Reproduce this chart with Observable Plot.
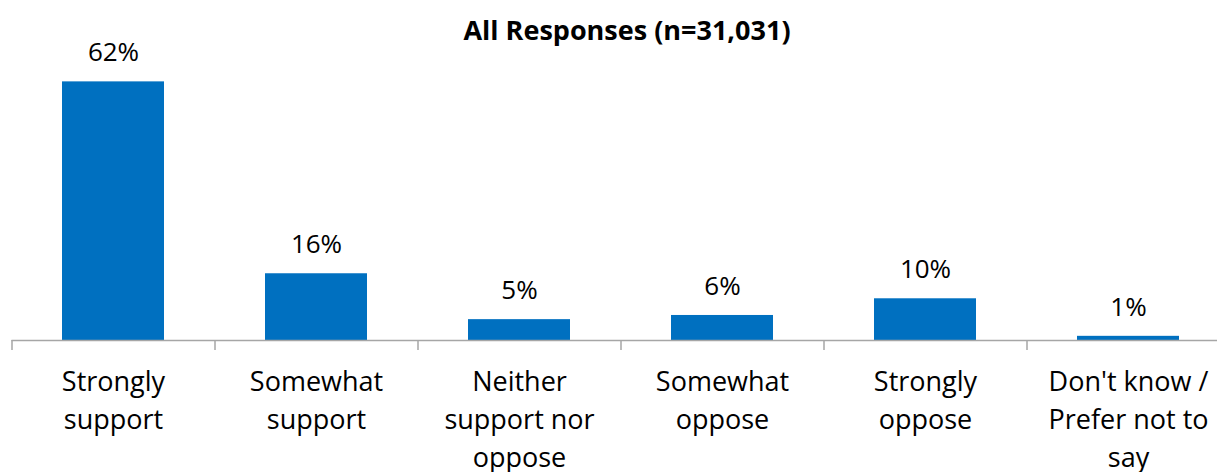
<!DOCTYPE html>
<html>
<head>
<meta charset="utf-8">
<script src="https://cdn.jsdelivr.net/npm/d3@7"></script>
<script src="https://cdn.jsdelivr.net/npm/@observablehq/plot@0.6"></script>
<style>
  html, body { margin: 0; padding: 0; background: #fff; overflow: hidden; }
  #chart svg { display: block; max-width: none !important; }
</style>
</head>
<body>
<div id="chart"></div>
<script>
const title = "All Responses (n=31,031)";
const categories = ["Strongly support", "Somewhat support", "Neither support nor oppose", "Somewhat oppose", "Strongly oppose", "Don't know / Prefer not to say"];
const tickLabels = ["Strongly\nsupport", "Somewhat\nsupport", "Neither\nsupport nor\noppose", "Somewhat\noppose", "Strongly\noppose", "Don't know /\nPrefer not to\nsay"];
const values = [62, 16, 5, 6, 10, 1];

const data = categories.map((c, i) => ({category: c, value: values[i], label: tickLabels[i]}));
const labelOf = new Map(data.map(d => [d.category, d.label]));

const font = "'Open Sans', Lato, sans-serif";
const W = 1231;

const plot = Plot.plot({
  width: W,
  height: 472,
  marginLeft: 11.5,
  marginRight: 1.5,
  marginTop: 48,
  marginBottom: 132,
  style: {fontFamily: font, fontSize: "26px", color: "#000", background: "#fff", overflow: "visible", maxWidth: "none"},
  x: {domain: categories, paddingInner: 0.5, paddingOuter: 0.25, align: 0.5, axis: null, label: null},
  y: {domain: [0, 70], axis: null},
  marks: [
    Plot.barY(data, {x: "category", y: "value", fill: "#0070C0"}),
    Plot.ruleY([0], {stroke: "#a6a6a6", strokeWidth: 1.5}),
    Plot.ruleX(categories, {x: d => d, dx: -101.5, y1: 0, y2: -2.4, stroke: "#a6a6a6", strokeWidth: 1.5}),
    Plot.text(data, {x: "category", y: "value", text: d => d.value + "%", dy: -29, fontSize: 26, fill: "#000"}),
    Plot.axisX({tickSize: 0, tickPadding: 24, label: null, tickFormat: d => labelOf.get(d), fontSize: 27, lineHeight: 1.4, fill: "#000"}),
    Plot.text([title], {frameAnchor: "top", dy: -28, dx: 6, fontSize: 27, fontWeight: "bold", fill: "#000"})
  ]
});
document.getElementById("chart").appendChild(plot);
</script>
</body>
</html>
